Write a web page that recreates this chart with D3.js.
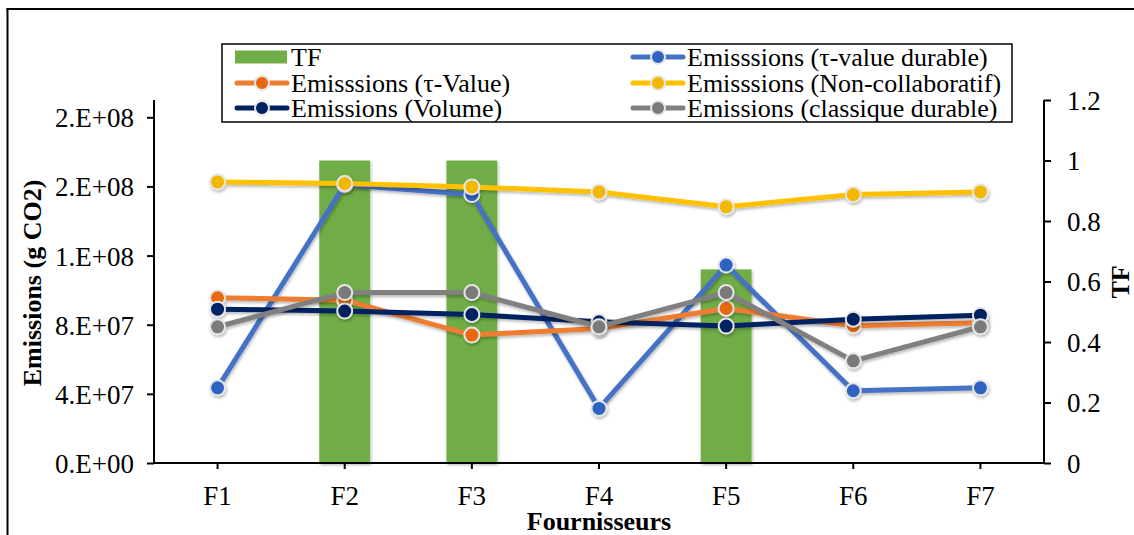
<!DOCTYPE html>
<html><head><meta charset="utf-8">
<script src="https://cdn.jsdelivr.net/npm/d3@7"></script>
<style>
html,body{margin:0;padding:0;background:#fff;}
text{font-family:"Liberation Serif","Times New Roman",serif;fill:#000;}
</style></head>
<body>
<svg id="chart" width="1134" height="535"></svg>
<script>
const categories = ["F1","F2","F3","F4","F5","F6","F7"];
const tfValues = [0, 1, 1, 0, 0.64, 0, 0];
const tauValueDurable = [4.35e7, 1.61e8, 1.553e8, 3.16e7, 1.145e8, 4.18e7, 4.35e7];
const tauValue = [9.56e7, 9.42e7, 7.40e7, 7.78e7, 8.94e7, 7.94e7, 8.11e7];
const nonCollaboratif = [1.626e8, 1.617e8, 1.597e8, 1.568e8, 1.482e8, 1.553e8, 1.568e8];
const volume = [8.90e7, 8.79e7, 8.59e7, 8.17e7, 7.92e7, 8.32e7, 8.55e7];
const classiqueDurable = [7.88e7, 9.86e7, 9.86e7, 7.88e7, 9.86e7, 5.91e7, 7.88e7];
const leftTicks = [0, 4e7, 8e7, 1.2e8, 1.6e8, 2e8];
const rightTicks = [0, 0.2, 0.4, 0.6, 0.8, 1, 1.2];

const series = [
  {name:"Emisssions (τ-value durable)", values:tauValueDurable, line:"#4472C4", marker:"#2E63C4"},
  {name:"Emisssions (τ-Value)", values:tauValue, line:"#ED7D31", marker:"#E8680F"},
  {name:"Emisssions (Non-collaboratif)", values:nonCollaboratif, line:"#FFC000", marker:"#F2B700"},
  {name:"Emissions (Volume)", values:volume, line:"#002060", marker:"#002060"},
  {name:"Emissions (classique durable)", values:classiqueDurable, line:"#808080", marker:"#7A7A7A"}
];

const svg = d3.select("#chart");
const defs = svg.append("defs");
const f = defs.append("filter").attr("id","sh").attr("x","-20%").attr("y","-20%").attr("width","140%").attr("height","140%");
f.append("feDropShadow").attr("dx",1).attr("dy",2).attr("stdDeviation",1.5).attr("flood-color","#000").attr("flood-opacity",0.28);

const X0 = 154, X1 = 1044, Y0 = 463, Y1 = 100;
const x = d3.scaleBand().domain(categories).range([X0, X1]).paddingInner(0).paddingOuter(0);
const yL = d3.scaleLinear().domain([0, 2.1e8]).range([Y0, Y1]);
const yR = d3.scaleLinear().domain([0, 1.2]).range([Y0, Y1]);
const FS = 27, FL = 26, FT = 26;

// frame
svg.append("line").attr("x1",7.5).attr("x2",7.5).attr("y1",8).attr("y2",535).attr("stroke","#000").attr("stroke-width",2);
svg.append("line").attr("x1",6.5).attr("x2",1134).attr("y1",9).attr("y2",9).attr("stroke","#000").attr("stroke-width",2);

// bars
const bw = x.bandwidth()*0.4;
svg.append("g").attr("filter","url(#sh)").selectAll("rect").data(categories.map((c,i)=>({c,v:tfValues[i]})).filter(d=>d.v>0))
  .join("rect")
  .attr("x", d=>x(d.c)+x.bandwidth()/2-bw/2)
  .attr("width", bw)
  .attr("y", d=>yR(d.v))
  .attr("height", d=>Y0-yR(d.v))
  .attr("fill","#70AD47");

// axes
function fmtE(d){
  if(d===0) return "0.E+00";
  let e = Math.floor(Math.log10(d));
  let m = Math.round(d/Math.pow(10,e));
  if(m===10){m=1;e+=1;}
  return m+".E+"+String(e).padStart(2,"0");
}
const gL = svg.append("g").attr("transform",`translate(${X0},0)`)
  .call(d3.axisLeft(yL).tickValues(leftTicks).tickFormat(fmtE).tickSize(7).tickPadding(13).tickSizeOuter(0));
const gR = svg.append("g").attr("transform",`translate(${X1},0)`)
  .call(d3.axisRight(yR).tickValues(rightTicks).tickFormat(d=>String(+d.toFixed(1))).tickSize(7).tickPadding(16).tickSizeOuter(0));
const gX = svg.append("g").attr("transform",`translate(0,${Y0})`)
  .call(d3.axisBottom(x).tickSize(6).tickPadding(17).tickSizeOuter(0));
[gL,gR,gX].forEach(g=>{
  g.selectAll("text").attr("font-family",'"Liberation Serif",serif').attr("font-size",FS).attr("fill","#000");
  g.selectAll("line,path").attr("stroke","#000").attr("stroke-width",2);
});
gL.select(".domain").attr("d",`M0,${Y1}V${Y0}`);
gR.select(".domain").attr("d",`M0,${Y1}V${Y0}`);
gX.select(".domain").attr("d",`M${X0},0H${X1}`);
gL.selectAll(".tick text").attr("dy","0.35em");
gR.selectAll(".tick text").attr("dy","0.35em");

// lines
const lineGen = d3.line().x((d,i)=>x(categories[i])+x.bandwidth()/2).y(d=>yL(d));
series.forEach(s=>{
  const g = svg.append("g").attr("filter","url(#sh)");
  g.append("path").attr("d",lineGen(s.values)).attr("fill","none").attr("stroke",s.line).attr("stroke-width",5).attr("stroke-linejoin","round");
  g.selectAll("circle").data(s.values).join("circle")
    .attr("cx",(d,i)=>x(categories[i])+x.bandwidth()/2)
    .attr("cy",d=>yL(d)).attr("r",7.5)
    .attr("fill",s.marker).attr("stroke","#E6E6E6").attr("stroke-width",2);
});

// axis titles
svg.append("text").attr("transform","translate(32,283) rotate(-90)").attr("text-anchor","middle").attr("dy","0.35em")
  .attr("font-weight","bold").attr("font-size",FT).text("Emissions (g CO2)");
svg.append("text").attr("x",599).attr("y",521).attr("text-anchor","middle").attr("dy","0.35em")
  .attr("font-weight","bold").attr("font-size",FT).text("Fournisseurs");
svg.append("text").attr("transform","translate(1120,282) rotate(-90)").attr("text-anchor","middle").attr("dy","0.35em")
  .attr("font-weight","bold").attr("font-size",FT).text("TF");

// legend
const lg = svg.append("g");
lg.append("rect").attr("x",222).attr("y",44).attr("width",790).attr("height",78).attr("fill","#fff").attr("stroke","#000").attr("stroke-width",1.5);
const legendItems = [
  {name:"TF", type:"bar", col:0, row:0},
  {s:series[0], col:1, row:0},
  {s:series[1], col:0, row:1},
  {s:series[2], col:1, row:1},
  {s:series[3], col:0, row:2},
  {s:series[4], col:1, row:2}
];
const colX = [235, 631], rowY = [57, 83, 108];
legendItems.forEach(it=>{
  const lx = colX[it.col], ly = rowY[it.row];
  if(it.type==="bar"){
    lg.append("rect").attr("x",lx).attr("y",ly-6.5).attr("width",52).attr("height",13).attr("fill","#70AD47");
  } else {
    lg.append("line").attr("x1",lx+2).attr("x2",lx+52).attr("y1",ly).attr("y2",ly).attr("stroke",it.s.line).attr("stroke-width",5).attr("stroke-linecap","round");
    lg.append("circle").attr("cx",lx+27).attr("cy",ly).attr("r",7).attr("fill",it.s.marker).attr("stroke","#E6E6E6").attr("stroke-width",2);
  }
  lg.append("text").attr("x",lx+56).attr("y",ly).attr("dy","0.35em").attr("font-size",FL).text(it.type==="bar"?"TF":it.s.name);
});
</script>
</body></html>
